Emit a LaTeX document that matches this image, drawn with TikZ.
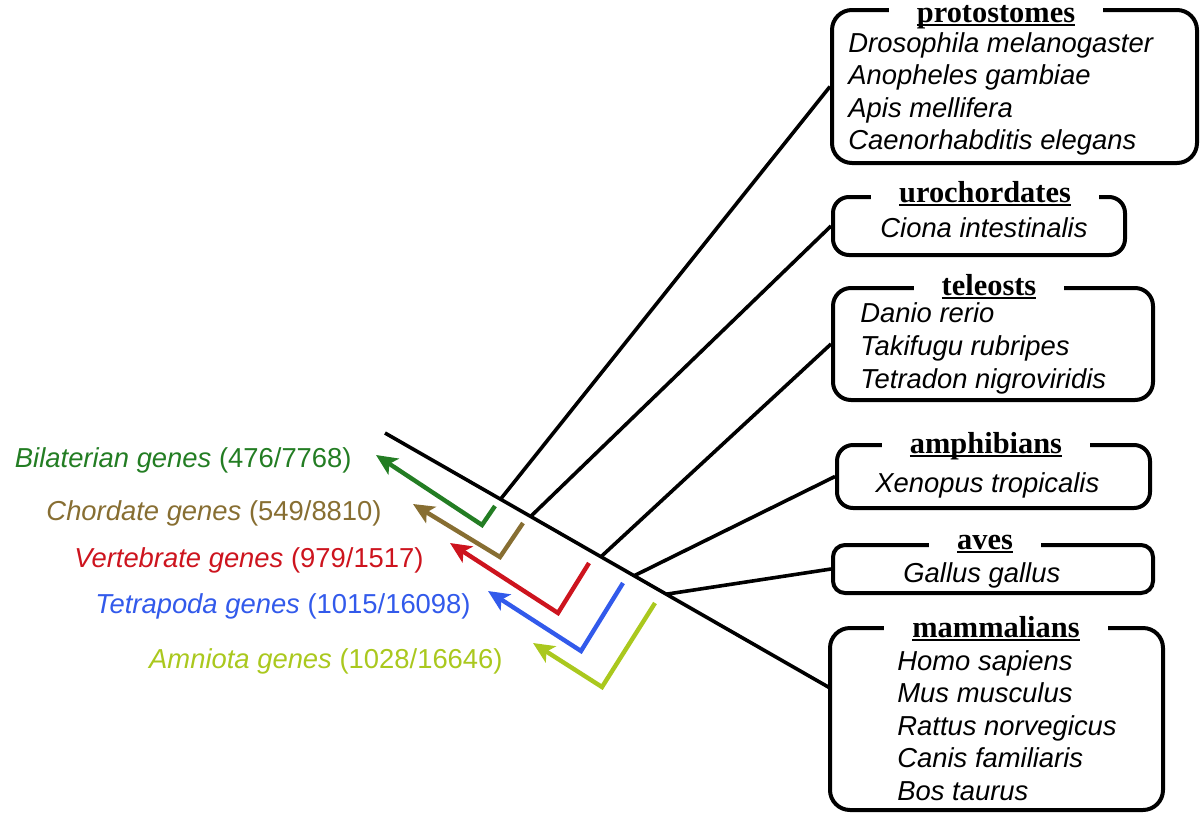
\documentclass[tikz,border=0pt]{standalone}
\usepackage{fontspec}
\setmainfont{Liberation Sans}
\newfontfamily\titlefont{Liberation Serif}
\usetikzlibrary{fit,arrows.meta}
\definecolor{cBil}{RGB}{35,125,35}
\definecolor{cCho}{RGB}{135,110,50}
\definecolor{cVer}{RGB}{205,20,30}
\definecolor{cTet}{RGB}{50,90,235}
\definecolor{cAmn}{RGB}{170,200,30}
\newcommand\uln[1]{\setbox0\hbox{#1}\rlap{\rule[-2pt]{\wd0}{0.9pt}}\box0}
\begin{document}
\begin{tikzpicture}[x=0.5pt,y=-0.5pt,
  blk/.style={line width=1.8pt, black},
  box/.style={draw, line width=2pt, rounded corners=8pt, inner sep=0pt},
  ttl/.style={fill=white, inner xsep=14pt, inner ysep=0pt, anchor=base, font=\titlefont\fontsize{15.2}{18}\selectfont\bfseries},
  sp/.style={anchor=base west, inner sep=0pt, font=\fontsize{13.7}{16}\selectfont\itshape},
  lab/.style={anchor=base east, inner sep=0pt, font=\fontsize{13.7}{16}\selectfont},
  garr/.style={line width=2.2pt, -{Stealth[length=10.5pt,width=9.5pt,inset=2.5pt]}, line join=miter}
]
\useasboundingbox (0,0) rectangle (1200,820);

% boxes
\node[box, rounded corners=10pt, fit={(832,10) (1197,163)}] (P) {};
\node[box, fit={(833,197) (1125,255)}] (U) {};
\node[box, rounded corners=9pt, fit={(833,288) (1153,400)}] (T) {};
\node[box, fit={(837,445) (1150,508)}] (A) {};
\node[box, rounded corners=6pt, fit={(833,545) (1153,593)}] (V) {};
\node[box, rounded corners=10pt, fit={(830,628) (1163,810)}] (M) {};

% titles
\node[ttl] (Pt) at (996,22) {\uln{protostomes}};
\node[ttl] (Ut) at (985,202) {\uln{urochordates}};
\node[ttl] (Tt) at (989,295) {\uln{teleosts}};
\node[ttl] (At) at (986,453) {\uln{amphibians}};
\node[ttl] (Vt) at (985,549) {\uln{aves}};
\node[ttl] (Mt) at (996,637) {\uln{mammalians}};

% species
\node[sp] (p1) at (848,52) {Drosophila melanogaster};
\node[sp] (p2) at (848,84.5) {Anopheles gambiae};
\node[sp] (p3) at (848,117) {Apis mellifera};
\node[sp] (p4) at (848,149.5) {Caenorhabditis elegans};
\node[sp] (u1) at (880,237) {Ciona intestinalis};
\node[sp] (t1) at (860,322) {Danio rerio};
\node[sp] (t2) at (860,355) {Takifugu rubripes};
\node[sp] (t3) at (860,388) {Tetradon nigroviridis};
\node[sp] (a1) at (875,492) {Xenopus tropicalis};
\node[sp] (v1) at (903,582) {Gallus gallus};
\node[sp] (m1) at (897,670) {Homo sapiens};
\node[sp] (m2) at (897,702.5) {Mus musculus};
\node[sp] (m3) at (897,735) {Rattus norvegicus};
\node[sp] (m4) at (897,767.5) {Canis familiaris};
\node[sp] (m5) at (897,800) {Bos taurus};

% tree
\coordinate (root) at (385,433);
\coordinate (mend) at (830,688);
\draw[blk] (root) -- (mend)
  coordinate[pos=0.2596] (j1)
  coordinate[pos=0.3273] (j2)
  coordinate[pos=0.4853] (j3)
  coordinate[pos=0.5598] (j4)
  coordinate[pos=0.6321] (j5);
\draw[blk] (j1) -- (P.west);
\draw[blk] (j2) -- (U.west);
\draw[blk] (j3) -- (T.west);
\draw[blk] (j4) -- (A.west);
\draw[blk] (j5) -- (V.west);

% gene-set arrows
\coordinate (gE) at (495,506); \coordinate (gC) at (482,525); \coordinate (gT) at (376,455);
\coordinate (cE) at (523,523); \coordinate (cC) at (500,557); \coordinate (cT) at (413,504);
\coordinate (rE) at (589,563); \coordinate (rC) at (558,613); \coordinate (rT) at (450,543);
\coordinate (bE) at (623,583); \coordinate (bC) at (581,651); \coordinate (bT) at (488,591);
\coordinate (yE) at (655,603); \coordinate (yC) at (602,687); \coordinate (yT) at (533,643);
\draw[garr, cBil] (gE) -- (gC) -- (gT);
\draw[garr, cCho] (cE) -- (cC) -- (cT);
\draw[garr, cVer] (rE) -- (rC) -- (rT);
\draw[garr, cTet] (bE) -- (bC) -- (bT);
\draw[garr, cAmn] (yE) -- (yC) -- (yT);

% labels
\node[lab, text=cBil] (lBil) at (352,467) {{\itshape Bilaterian genes} (476/7768)};
\node[lab, text=cCho] (lCho) at (382,520) {{\itshape Chordate genes} (549/8810)};
\node[lab, text=cVer] (lVer) at (424,567) {{\itshape Vertebrate genes} (979/1517)};
\node[lab, text=cTet] (lTet) at (471,613) {{\itshape Tetrapoda genes} (1015/16098)};
\node[lab, text=cAmn] (lAmn) at (503,668) {{\itshape Amniota genes} (1028/16646)};
\end{tikzpicture}
\end{document}
